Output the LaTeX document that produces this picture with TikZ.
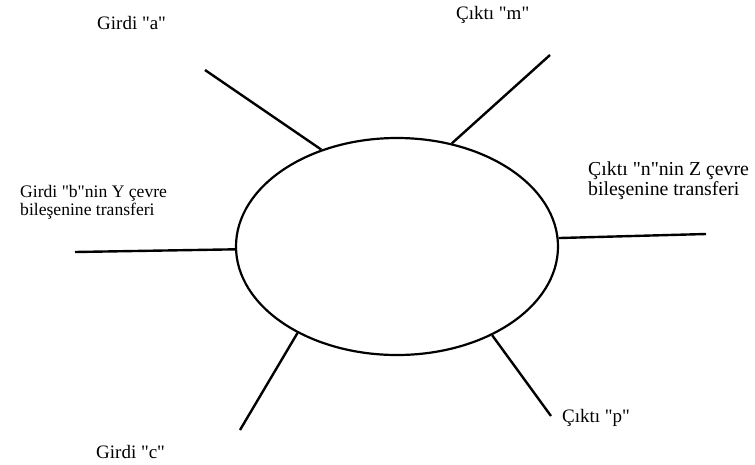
\documentclass[tikz,border=0pt]{standalone}
\usepackage{fontspec}
\setmainfont{Liberation Serif}[Ligatures=TeXOff]
\usetikzlibrary{shapes.geometric}
\begin{document}
\begin{tikzpicture}[x=1pt,y=-1pt,
  spoke/.style={line width=2.4pt},
  lbl/.style={anchor=base west,inner sep=0pt,font=\fontsize{19}{18}\selectfont,align=left},
  lblsmall/.style={lbl,font=\fontsize{17.6}{18}\selectfont},
  lblbig/.style={lbl,font=\fontsize{19.8}{18}\selectfont}]
\useasboundingbox (0,0) rectangle (755,464);
% central system
\node[ellipse,draw,line width=2.2pt,minimum width=322,minimum height=217,inner sep=0pt] (sys) at (397,246.5) {};
% free ends of the flows
\coordinate (ina) at (205,70);
\coordinate (outm) at (550,55);
\coordinate (inb) at (75,252);
\coordinate (outn) at (706,234);
\coordinate (inc) at (240,430);
\coordinate (outp) at (551,416);
\draw[spoke] (ina) -- (sys.128.5);
\draw[spoke] (outm) -- (sys.62.9);
\draw[spoke] (inb) -- (sys.181.2);
\draw[spoke] (outn) -- (sys.3.4);
\draw[spoke] (inc) -- (sys.221.8);
\draw[spoke] (outp) -- (sys.317.7);
% labels
\node[lbl] (la) at (97,29) {Girdi "a"};
\node[lbl] (lm) at (456,19.5) {Çıktı "m"};
\node[lblsmall] (lb) at (20,215) {Girdi "b"nin Y çevre\\bileşenine transferi};
\node[lblbig] (ln) at (588,195) {Çıktı "n"nin Z çevre\\bileşenine transferi};
\node[lbl] (lc) at (96,458) {Girdi "c"};
\node[lbl] (lp) at (562,422) {Çıktı "p"};
\end{tikzpicture}
\end{document}
